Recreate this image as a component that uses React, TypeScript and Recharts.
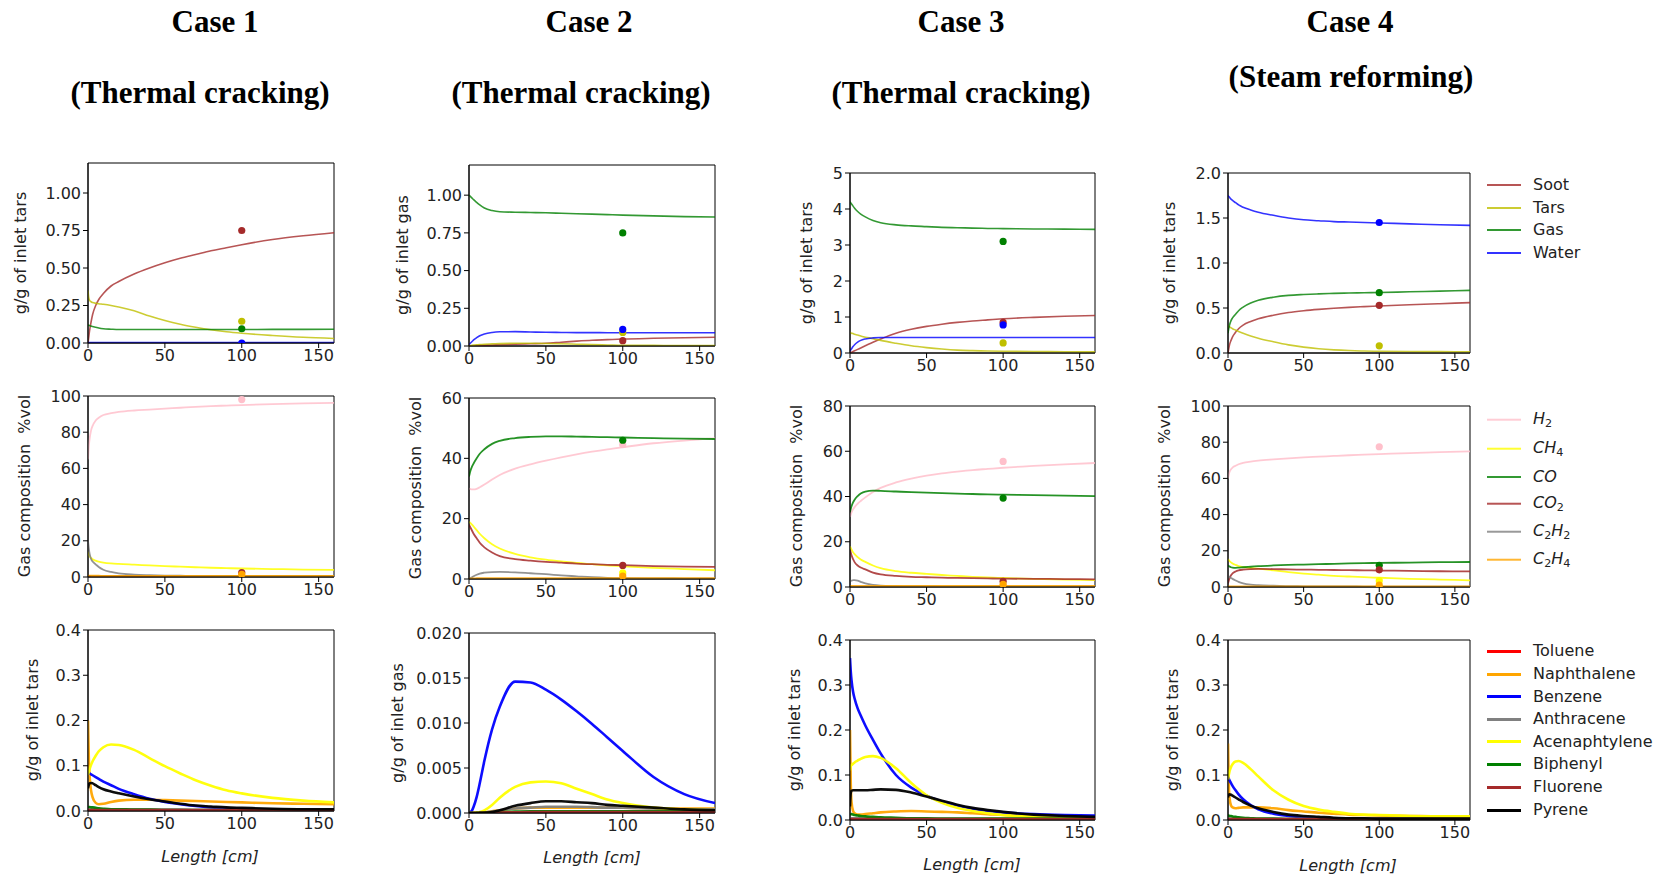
import React from 'react'
import { ComposedChart, Line, Scatter, XAxis, YAxis, ReferenceArea } from 'recharts'

// reactor length grid [cm]
const LENGTH_CM = [0, 0.5, 1, 2, 3, 5, 7, 10, 15, 20, 30, 40, 50, 60, 70, 80, 90, 100, 120, 140, 160]
const X_TICKS = [0, 50, 100, 150]
const EXP_X = 100

// ---- row 1: product yields ----
const c1Soot = [0, 0.04, 0.08, 0.14, 0.19, 0.25, 0.29, 0.33, 0.38, 0.41, 0.46, 0.5, 0.535, 0.565, 0.59, 0.615, 0.635, 0.655, 0.69, 0.715, 0.735]
const c1Tars = [0.35, 0.3, 0.285, 0.275, 0.27, 0.265, 0.262, 0.258, 0.25, 0.24, 0.215, 0.18, 0.15, 0.125, 0.105, 0.088, 0.075, 0.065, 0.05, 0.038, 0.03]
const c1Gas = [0.12, 0.118, 0.116, 0.113, 0.11, 0.105, 0.1, 0.095, 0.092, 0.09, 0.09, 0.09, 0.09, 0.09, 0.09, 0.09, 0.09, 0.09, 0.091, 0.091, 0.092]
const c1Water = [0.003, 0.003, 0.003, 0.003, 0.003, 0.003, 0.003, 0.003, 0.003, 0.003, 0.003, 0.003, 0.003, 0.003, 0.003, 0.003, 0.003, 0.003, 0.003, 0.003, 0.003]

const c2Soot = [0, 0, 0.001, 0.001, 0.002, 0.003, 0.004, 0.005, 0.007, 0.008, 0.012, 0.015, 0.018, 0.025, 0.032, 0.038, 0.042, 0.046, 0.051, 0.055, 0.058]
const c2Tars = [0, 0.002, 0.003, 0.005, 0.006, 0.008, 0.01, 0.012, 0.014, 0.016, 0.018, 0.018, 0.017, 0.015, 0.012, 0.009, 0.007, 0.005, 0.004, 0.003, 0.003]
const c2Gas = [1.0, 0.995, 0.99, 0.98, 0.97, 0.952, 0.935, 0.915, 0.898, 0.89, 0.887, 0.885, 0.883, 0.88, 0.877, 0.874, 0.871, 0.868, 0.863, 0.858, 0.855]
const c2Water = [0.01, 0.015, 0.02, 0.03, 0.04, 0.055, 0.068, 0.08, 0.09, 0.094, 0.095, 0.093, 0.091, 0.09, 0.089, 0.089, 0.088, 0.088, 0.088, 0.088, 0.088]

const c3Soot = [0, 0.01, 0.02, 0.04, 0.06, 0.1, 0.14, 0.2, 0.3, 0.39, 0.55, 0.66, 0.74, 0.8, 0.85, 0.89, 0.92, 0.95, 0.99, 1.02, 1.04]
const c3Tars = [0.57, 0.56, 0.55, 0.54, 0.52, 0.5, 0.47, 0.44, 0.4, 0.35, 0.27, 0.2, 0.15, 0.11, 0.08, 0.065, 0.055, 0.048, 0.04, 0.035, 0.03]
const c3Gas = [4.2, 4.17, 4.14, 4.08, 4.02, 3.93, 3.86, 3.78, 3.68, 3.62, 3.56, 3.53, 3.51, 3.49, 3.48, 3.47, 3.46, 3.455, 3.445, 3.44, 3.435]
const c3Water = [0.05, 0.09, 0.12, 0.18, 0.23, 0.3, 0.35, 0.39, 0.42, 0.43, 0.43, 0.43, 0.43, 0.43, 0.43, 0.43, 0.43, 0.43, 0.43, 0.43, 0.43]

const c4Soot = [0, 0.05, 0.09, 0.14, 0.18, 0.23, 0.27, 0.31, 0.35, 0.38, 0.42, 0.45, 0.47, 0.485, 0.497, 0.507, 0.515, 0.522, 0.536, 0.548, 0.56]
const c4Tars = [0.3, 0.295, 0.29, 0.28, 0.27, 0.255, 0.24, 0.22, 0.19, 0.165, 0.125, 0.09, 0.065, 0.047, 0.035, 0.027, 0.022, 0.019, 0.016, 0.015, 0.014]
const c4Gas = [0.22, 0.27, 0.31, 0.36, 0.39, 0.43, 0.47, 0.51, 0.555, 0.585, 0.62, 0.64, 0.65, 0.657, 0.662, 0.666, 0.669, 0.672, 0.68, 0.688, 0.696]
const c4Water = [1.75, 1.74, 1.73, 1.71, 1.695, 1.67, 1.645, 1.62, 1.59, 1.565, 1.53, 1.5, 1.48, 1.47, 1.46, 1.455, 1.45, 1.445, 1.435, 1.425, 1.418]

// measured yields at 100 cm: soot, tars, gas, water
const c1YieldExp = [0.75, 0.145, 0.095, 0.0]
const c2YieldExp = [0.035, 0.09, 0.75, 0.11]
const c3YieldExp = [0.85, 0.28, 3.1, 0.78]
const c4YieldExp = [0.53, 0.08, 0.67, 1.45]

// ---- row 2: gas composition %vol ----
const c1H2 = [65, 72, 76, 81, 83.5, 86.5, 88, 89.5, 90.5, 91.2, 92, 92.5, 93, 93.5, 94, 94.4, 94.7, 95, 95.5, 95.9, 96.2]
const c1CH4 = [14, 12.5, 11.5, 10.5, 9.8, 9, 8.5, 8, 7.5, 7.2, 6.8, 6.4, 6, 5.7, 5.4, 5.1, 4.9, 4.7, 4.4, 4.1, 3.9]
const c1CO = [0.5, 0.5, 0.5, 0.4, 0.4, 0.4, 0.3, 0.3, 0.3, 0.3, 0.3, 0.3, 0.3, 0.3, 0.3, 0.3, 0.3, 0.3, 0.3, 0.3, 0.3]
const c1CO2 = [0.4, 0.4, 0.4, 0.4, 0.3, 0.3, 0.3, 0.3, 0.3, 0.3, 0.3, 0.3, 0.3, 0.3, 0.3, 0.3, 0.3, 0.3, 0.3, 0.3, 0.3]
const c1C2H2 = [20, 16, 13, 10, 8.5, 7, 5.5, 4, 2.8, 2, 1.3, 1, 0.8, 0.7, 0.6, 0.6, 0.5, 0.5, 0.5, 0.4, 0.4]
const c1C2H4 = [0.8, 0.8, 0.8, 0.7, 0.7, 0.7, 0.7, 0.6, 0.6, 0.6, 0.6, 0.6, 0.6, 0.6, 0.6, 0.6, 0.6, 0.6, 0.6, 0.6, 0.6]

const c2H2 = [30, 29.9, 29.8, 29.7, 29.7, 29.9, 30.4, 31.3, 33, 34.5, 36.6, 38, 39.2, 40.3, 41.3, 42.2, 43, 43.7, 45, 45.9, 46.6]
const c2CH4 = [19, 18.8, 18.5, 18, 17.4, 16.2, 15, 13.5, 11.5, 10.1, 8.3, 7.2, 6.4, 5.8, 5.3, 4.9, 4.5, 4.2, 3.7, 3.3, 2.9]
const c2CO = [34, 35, 36, 37.3, 38.3, 40, 41.5, 43, 44.8, 45.8, 46.7, 47.1, 47.3, 47.3, 47.2, 47.1, 47, 46.9, 46.7, 46.5, 46.4]
const c2CO2 = [18, 17.5, 17, 16, 15, 13.5, 12, 10.5, 8.8, 7.6, 6.6, 6.1, 5.7, 5.4, 5.1, 4.9, 4.7, 4.6, 4.3, 4.1, 4.0]
const c2C2H2 = [0, 0.15, 0.3, 0.6, 0.9, 1.4, 1.8, 2.1, 2.3, 2.35, 2.2, 1.9, 1.6, 1.2, 0.9, 0.6, 0.4, 0.3, 0.2, 0.15, 0.1]
const c2C2H4 = [0.1, 0.1, 0.15, 0.2, 0.2, 0.25, 0.3, 0.3, 0.3, 0.3, 0.3, 0.3, 0.3, 0.3, 0.3, 0.3, 0.3, 0.3, 0.3, 0.3, 0.3]

const c3H2 = [31, 32, 33, 34.3, 35.3, 36.8, 38, 39.6, 42, 43.8, 46.2, 47.9, 49.2, 50.2, 51, 51.7, 52.2, 52.7, 53.5, 54.2, 54.8]
const c3CH4 = [18, 17.2, 16.5, 15.4, 14.5, 13.2, 12.2, 11.1, 9.5, 8.3, 7, 6.3, 5.8, 5.3, 4.9, 4.5, 4.2, 4.0, 3.6, 3.3, 3.0]
const c3CO = [33, 34.5, 35.7, 37.4, 38.6, 40.2, 41.3, 42.2, 42.6, 42.5, 42.2, 41.9, 41.7, 41.5, 41.3, 41.1, 40.9, 40.8, 40.6, 40.4, 40.2]
const c3CO2 = [16.5, 15.2, 14, 12.3, 11, 9.5, 8.6, 7.8, 6.4, 5.6, 4.9, 4.5, 4.3, 4.1, 4, 3.9, 3.8, 3.7, 3.6, 3.5, 3.4]
const c3C2H2 = [2.5, 2.7, 2.8, 3, 3, 2.8, 2.3, 1.6, 0.9, 0.6, 0.4, 0.3, 0.3, 0.2, 0.2, 0.2, 0.2, 0.2, 0.2, 0.2, 0.2]
const c3C2H4 = [0.5, 0.5, 0.5, 0.5, 0.5, 0.5, 0.5, 0.5, 0.5, 0.5, 0.5, 0.5, 0.5, 0.5, 0.5, 0.5, 0.5, 0.5, 0.5, 0.5, 0.5]

const c4H2 = [60, 62, 63.5, 65, 66, 67, 67.8, 68.6, 69.3, 69.8, 70.5, 71.1, 71.6, 72, 72.4, 72.8, 73.1, 73.4, 74, 74.5, 74.9]
const c4CH4 = [15.5, 14.8, 14.3, 13.6, 13, 12.2, 11.6, 11, 10.5, 10.1, 9.2, 8.2, 7.4, 6.8, 6.2, 5.8, 5.4, 5.1, 4.5, 4.1, 3.7]
const c4CO = [12, 11.6, 11.3, 10.9, 10.7, 10.6, 10.7, 10.9, 11.2, 11.5, 11.9, 12.2, 12.4, 12.6, 12.8, 13, 13.2, 13.3, 13.5, 13.7, 13.8]
const c4CO2 = [2, 3.5, 4.8, 6.5, 7.5, 8.6, 9.2, 9.6, 9.9, 10, 9.9, 9.7, 9.6, 9.5, 9.4, 9.3, 9.2, 9.1, 8.9, 8.7, 8.6]
const c4C2H2 = [6, 5.8, 5.5, 5, 4.5, 3.6, 2.8, 2, 1.3, 1, 0.7, 0.5, 0.4, 0.35, 0.3, 0.3, 0.25, 0.25, 0.2, 0.2, 0.2]
const c4C2H4 = [0.3, 0.3, 0.3, 0.3, 0.3, 0.3, 0.3, 0.3, 0.3, 0.3, 0.3, 0.3, 0.3, 0.3, 0.3, 0.3, 0.3, 0.3, 0.3, 0.3, 0.3]

// measured composition at 100 cm: H2, CH4, CO, CO2, C2H4
const c1GasExp = [98, null, null, 2.5, 1.5]
const c2GasExp = [44.5, 2, 46, 4.5, 1]
const c3GasExp = [55.5, null, 39.3, 2.5, 1.2]
const c4GasExp = [77.5, 3.5, 12, 9.5, 1]

// ---- row 3: tar species ----
const c1Toluene = [0.002, 0.002, 0.002, 0.002, 0.001, 0.001, 0.001, 0.001, 0.001, 0.001, 0.001, 0.001, 0.001, 0.001, 0.001, 0.001, 0.001, 0.001, 0.001, 0.001, 0.001]
const c1Naphthalene = [0.2, 0.12, 0.08, 0.045, 0.03, 0.018, 0.015, 0.016, 0.02, 0.023, 0.025, 0.025, 0.024, 0.023, 0.022, 0.021, 0.02, 0.019, 0.017, 0.016, 0.015]
const c1Benzene = [0.085, 0.084, 0.083, 0.081, 0.079, 0.075, 0.071, 0.065, 0.057, 0.049, 0.037, 0.027, 0.02, 0.015, 0.011, 0.008, 0.006, 0.005, 0.003, 0.002, 0.002]
const c1Anthracene = [0.004, 0.004, 0.004, 0.004, 0.004, 0.004, 0.004, 0.004, 0.003, 0.003, 0.003, 0.003, 0.003, 0.003, 0.002, 0.002, 0.002, 0.002, 0.002, 0.002, 0.002]
const c1Acenaphtylene = [0.08, 0.086, 0.092, 0.102, 0.11, 0.122, 0.132, 0.141, 0.147, 0.146, 0.135, 0.117, 0.099, 0.083, 0.068, 0.056, 0.046, 0.039, 0.029, 0.023, 0.019]
const c1Biphenyl = [0.01, 0.009, 0.009, 0.008, 0.008, 0.007, 0.006, 0.005, 0.004, 0.004, 0.003, 0.003, 0.002, 0.002, 0.002, 0.002, 0.002, 0.002, 0.002, 0.002, 0.002]
const c1Fluorene = [0.002, 0.002, 0.002, 0.002, 0.002, 0.002, 0.002, 0.002, 0.002, 0.002, 0.002, 0.002, 0.002, 0.002, 0.002, 0.002, 0.002, 0.002, 0.002, 0.002, 0.002]
const c1Pyrene = [0.05, 0.058, 0.061, 0.062, 0.061, 0.057, 0.053, 0.048, 0.043, 0.039, 0.032, 0.026, 0.021, 0.016, 0.012, 0.01, 0.008, 0.007, 0.005, 0.004, 0.004]

const c2Toluene = [0, 0, 0, 0, 0, 0, 0, 0, 0.00001, 0.00002, 0.00003, 0.00004, 0.00005, 0.00005, 0.00005, 0.00005, 0.00005, 0.00005, 0.00005, 0.00005, 0.00005]
const c2Naphthalene = [0, 0, 0, 0, 0.00001, 0.00002, 0.00004, 0.00008, 0.0002, 0.0003, 0.0005, 0.0006, 0.0006, 0.0006, 0.0006, 0.0006, 0.0006, 0.0006, 0.00055, 0.0005, 0.0005]
const c2Benzene = [0, 0.00002, 0.0001, 0.0003, 0.0007, 0.0018, 0.0033, 0.0058, 0.0093, 0.0118, 0.0146, 0.0145, 0.0137, 0.0126, 0.0113, 0.0099, 0.0084, 0.0069, 0.004, 0.0021, 0.0011]
const c2Anthracene = [0, 0, 0, 0, 0, 0.00001, 0.00002, 0.00005, 0.00015, 0.0003, 0.0005, 0.0006, 0.0007, 0.0007, 0.0007, 0.00065, 0.0006, 0.0006, 0.0005, 0.0004, 0.0004]
const c2Acenaphtylene = [0, 0, 0, 0, 0.00001, 0.00005, 0.0001, 0.0003, 0.0009, 0.0017, 0.0029, 0.0034, 0.0035, 0.0033, 0.0027, 0.0021, 0.0015, 0.0011, 0.0006, 0.0004, 0.0003]
const c2Biphenyl = [0, 0, 0, 0, 0, 0.00001, 0.00002, 0.00004, 0.00008, 0.0001, 0.00015, 0.0002, 0.0002, 0.0002, 0.0002, 0.0002, 0.0002, 0.0002, 0.0002, 0.0002, 0.0002]
const c2Fluorene = [0, 0, 0, 0, 0, 0, 0.00001, 0.00002, 0.00004, 0.00005, 0.00008, 0.0001, 0.0001, 0.0001, 0.0001, 0.0001, 0.0001, 0.0001, 0.0001, 0.0001, 0.0001]
const c2Pyrene = [0, 0, 0, 0, 0, 0, 0.00001, 0.00002, 0.0001, 0.0003, 0.0008, 0.0011, 0.0013, 0.0013, 0.0012, 0.0011, 0.0009, 0.0008, 0.0006, 0.0004, 0.0003]

const c3Toluene = [0.001, 0.001, 0.001, 0.001, 0.001, 0.001, 0.001, 0.001, 0.001, 0.001, 0.001, 0.001, 0.001, 0.001, 0.001, 0.001, 0.001, 0.001, 0.001, 0.001, 0.001]
const c3Naphthalene = [0.2, 0.08, 0.04, 0.02, 0.015, 0.012, 0.012, 0.013, 0.015, 0.017, 0.019, 0.02, 0.019, 0.018, 0.017, 0.015, 0.013, 0.011, 0.009, 0.007, 0.006]
const c3Benzene = [0.36, 0.33, 0.31, 0.285, 0.27, 0.248, 0.232, 0.21, 0.178, 0.148, 0.1, 0.072, 0.054, 0.041, 0.032, 0.025, 0.02, 0.017, 0.013, 0.011, 0.01]
const c3Anthracene = [0.004, 0.004, 0.004, 0.004, 0.004, 0.004, 0.004, 0.003, 0.003, 0.003, 0.003, 0.003, 0.003, 0.002, 0.002, 0.002, 0.002, 0.002, 0.002, 0.002, 0.002]
const c3Acenaphtylene = [0.11, 0.12, 0.122, 0.125, 0.128, 0.132, 0.136, 0.14, 0.142, 0.138, 0.115, 0.082, 0.055, 0.038, 0.027, 0.02, 0.015, 0.011, 0.007, 0.005, 0.004]
const c3Biphenyl = [0.014, 0.013, 0.013, 0.012, 0.011, 0.01, 0.009, 0.008, 0.007, 0.006, 0.005, 0.004, 0.004, 0.003, 0.003, 0.003, 0.003, 0.003, 0.003, 0.003, 0.003]
const c3Fluorene = [0.002, 0.002, 0.002, 0.002, 0.002, 0.002, 0.002, 0.002, 0.002, 0.002, 0.002, 0.002, 0.002, 0.002, 0.002, 0.002, 0.002, 0.002, 0.002, 0.002, 0.002]
const c3Pyrene = [0.03, 0.06, 0.065, 0.066, 0.066, 0.066, 0.066, 0.066, 0.067, 0.068, 0.067, 0.061, 0.052, 0.043, 0.034, 0.027, 0.022, 0.018, 0.012, 0.009, 0.007]

const c4Toluene = [0.001, 0.001, 0.001, 0.001, 0.001, 0.001, 0.001, 0.001, 0.001, 0.001, 0.001, 0.001, 0.001, 0.001, 0.001, 0.001, 0.001, 0.001, 0.001, 0.001, 0.001]
const c4Naphthalene = [0.17, 0.08, 0.05, 0.032, 0.028, 0.026, 0.027, 0.028, 0.028, 0.028, 0.026, 0.022, 0.019, 0.016, 0.014, 0.012, 0.011, 0.01, 0.009, 0.008, 0.008]
const c4Benzene = [0.095, 0.092, 0.088, 0.082, 0.076, 0.066, 0.057, 0.046, 0.033, 0.024, 0.014, 0.009, 0.006, 0.005, 0.004, 0.003, 0.003, 0.002, 0.002, 0.002, 0.002]
const c4Anthracene = [0.003, 0.003, 0.003, 0.003, 0.003, 0.003, 0.003, 0.003, 0.002, 0.002, 0.002, 0.002, 0.002, 0.002, 0.002, 0.002, 0.002, 0.002, 0.002, 0.002, 0.002]
const c4Acenaphtylene = [0.09, 0.1, 0.108, 0.118, 0.124, 0.13, 0.131, 0.127, 0.113, 0.097, 0.066, 0.045, 0.031, 0.023, 0.018, 0.014, 0.012, 0.011, 0.009, 0.008, 0.008]
const c4Biphenyl = [0.01, 0.01, 0.009, 0.009, 0.008, 0.007, 0.006, 0.005, 0.004, 0.003, 0.003, 0.002, 0.002, 0.002, 0.002, 0.002, 0.002, 0.002, 0.002, 0.002, 0.002]
const c4Fluorene = [0.002, 0.002, 0.002, 0.002, 0.002, 0.002, 0.002, 0.002, 0.002, 0.002, 0.002, 0.002, 0.002, 0.002, 0.002, 0.002, 0.002, 0.002, 0.002, 0.002, 0.002]
const c4Pyrene = [0.05, 0.056, 0.057, 0.056, 0.054, 0.05, 0.046, 0.04, 0.032, 0.026, 0.018, 0.012, 0.009, 0.007, 0.005, 0.004, 0.004, 0.003, 0.003, 0.003, 0.003]

// ---- labels / colours ----
const YIELD_NAMES = ['Soot', 'Tars', 'Gas', 'Water']
const YIELD_COLORS = ['#a52a2a', '#bfbf00', '#008000', '#0000ff']
const GAS_NAMES = ['H2', 'CH4', 'CO', 'CO2', 'C2H2', 'C2H4']
const GAS_COLORS = ['#ffc0cb', '#ffff00', '#008000', '#a52a2a', '#808080', '#ffa500']
const GAS_EXP_COLORS = ['#ffc0cb', '#ffff00', '#008000', '#a52a2a', '#ffa500']
const TAR_NAMES = ['Toluene', 'Naphthalene', 'Benzene', 'Anthracene', 'Acenaphtylene', 'Biphenyl', 'Fluorene', 'Pyrene']
const TAR_COLORS = ['#ff0000', '#ffa500', '#0000ff', '#808080', '#ffff00', '#008000', '#a52a2a', '#000000']

const FONT = '"DejaVu Sans", sans-serif'
const TICK = { fontSize: 16, fill: '#222', fontFamily: FONT }

const f0 = (v: number) => String(v)
const f1 = (v: number) => v.toFixed(1)
const f2 = (v: number) => v.toFixed(2)
const f3 = (v: number) => v.toFixed(3)

type Box = [number, number, number, number] // left, top, width, height

interface PanelProps {
  box: Box
  yMax: number
  yTicks: number[]
  fmt: (v: number) => string
  lines: number[][]
  colors: string[]
  width: number
  opacity: number
  exp?: (number | null)[]
  expColors?: string[]
}

function Panel({ box, yMax, yTicks, fmt, lines, colors, width, opacity, exp, expColors }: PanelProps) {
  const rows = LENGTH_CM.map((x, i) => {
    const r: any = { x }
    lines.forEach((s, k) => { r['s' + k] = s[i] })
    return r
  })
  return (
    <div style={{ position: 'absolute', left: box[0] - 60, top: box[1] - 10 }}>
      <ComposedChart width={box[2] + 70} height={box[3] + 40} data={rows}
        margin={{ top: 10, right: 10, bottom: 0, left: 0 }}>
        <XAxis dataKey="x" type="number" domain={[0, 160]} ticks={X_TICKS} allowDataOverflow
          height={30} tick={TICK} tickSize={5} stroke="#000" />
        <YAxis type="number" domain={[0, yMax]} ticks={yTicks} tickFormatter={fmt} allowDataOverflow
          width={60} tick={TICK} tickSize={5} stroke="#000" />
        <ReferenceArea x1={0} x2={160} y1={0} y2={yMax} fill="none" fillOpacity={0}
          stroke="#000" strokeOpacity={1} strokeWidth={1} ifOverflow="visible" />
        {lines.map((_, k) => (
          <Line key={k} dataKey={'s' + k} type="monotone" stroke={colors[k]} strokeWidth={width}
            strokeOpacity={opacity} dot={false} isAnimationActive={false} />
        ))}
        {exp && exp.map((y, k) => y === null ? null : (
          <Scatter key={'e' + k} data={[{ x: EXP_X, y }]} dataKey="y" isAnimationActive={false}
            shape={(p: any) => <circle cx={p.cx} cy={p.cy} r={3.6} fill={expColors![k]} />} />
        ))}
      </ComposedChart>
    </div>
  )
}

function YLabel({ text, cx, cy }: { text: string; cx: number; cy: number }) {
  return (
    <div style={{
      position: 'absolute', left: cx, top: cy, transform: 'translate(-50%, -50%) rotate(-90deg)',
      whiteSpace: 'pre', fontFamily: FONT, fontSize: 16, color: '#222', lineHeight: 1,
    }}>{text}</div>
  )
}

function XLabel({ cx, cy }: { cx: number; cy: number }) {
  return (
    <div style={{
      position: 'absolute', left: cx, top: cy, transform: 'translate(-50%, -50%)',
      fontFamily: FONT, fontSize: 16, fontStyle: 'italic', color: '#222', lineHeight: 1, whiteSpace: 'pre',
    }}>Length [cm]</div>
  )
}

function Title({ text, cx, cy }: { text: string; cx: number; cy: number }) {
  return (
    <div style={{
      position: 'absolute', left: cx, top: cy, transform: 'translate(-50%, -50%)',
      fontFamily: '"Liberation Serif", serif', fontWeight: 'bold', fontSize: 31, whiteSpace: 'pre', lineHeight: 1,
    }}>{text}</div>
  )
}

const sub = { fontSize: '0.7em', verticalAlign: '-0.3em', fontStyle: 'normal' as const }
function gasLabel(name: string) {
  const parts = name.match(/[A-Z]+|\d+/g) || []
  return parts.map((p, i) => /\d/.test(p)
    ? <span key={i} style={sub}>{p}</span>
    : <i key={i}>{p}</i>)
}

function LegendBlock({ names, colors, rows, lw, math }: { names: string[]; colors: string[]; rows: number[]; lw: number; math?: boolean }) {
  return (
    <>
      {names.map((n, i) => (
        <div key={n} style={{ position: 'absolute', left: 1487, top: rows[i], transform: 'translateY(-50%)', display: 'flex', alignItems: 'center' }}>
          <div style={{ width: 34, height: lw, background: colors[i], opacity: lw < 3 ? 0.8 : 1 }} />
          <div style={{ marginLeft: 12, fontFamily: FONT, fontSize: 16, color: '#222', lineHeight: 1, whiteSpace: 'pre' }}>
            {math ? gasLabel(n) : n}
          </div>
        </div>
      ))}
    </>
  )
}

export default function App() {
  const yTicksA = [0, 0.25, 0.5, 0.75, 1.0]
  const pct = [0, 20, 40, 60, 80, 100]
  const tarTicks = [0, 0.1, 0.2, 0.3, 0.4]
  return (
    <div style={{ position: 'absolute', left: 0, top: 0, width: 1663, height: 877, background: '#fff', overflow: 'hidden' }}>
      <Title text="Case 1" cx={215} cy={21} />
      <Title text="(Thermal cracking)" cx={200} cy={92} />
      <Title text="Case 2" cx={589} cy={21} />
      <Title text="(Thermal cracking)" cx={581} cy={92} />
      <Title text="Case 3" cx={961} cy={21} />
      <Title text="(Thermal cracking)" cx={961} cy={92} />
      <Title text="Case 4" cx={1350} cy={21} />
      <Title text="(Steam reforming)" cx={1351} cy={76} />

      {/* row 1 */}
      <Panel box={[88, 163, 246, 180]} yMax={1.2} yTicks={yTicksA} fmt={f2} width={1.6} opacity={0.8}
        lines={[c1Soot, c1Tars, c1Gas, c1Water]} colors={YIELD_COLORS} exp={c1YieldExp} expColors={YIELD_COLORS} />
      <Panel box={[469, 165, 246, 181]} yMax={1.2} yTicks={yTicksA} fmt={f2} width={1.6} opacity={0.8}
        lines={[c2Soot, c2Tars, c2Gas, c2Water]} colors={YIELD_COLORS} exp={c2YieldExp} expColors={YIELD_COLORS} />
      <Panel box={[850, 173, 245, 180]} yMax={5} yTicks={[0, 1, 2, 3, 4, 5]} fmt={f0} width={1.6} opacity={0.8}
        lines={[c3Soot, c3Tars, c3Gas, c3Water]} colors={YIELD_COLORS} exp={c3YieldExp} expColors={YIELD_COLORS} />
      <Panel box={[1228, 173, 242, 180]} yMax={2} yTicks={[0, 0.5, 1, 1.5, 2]} fmt={f1} width={1.6} opacity={0.8}
        lines={[c4Soot, c4Tars, c4Gas, c4Water]} colors={YIELD_COLORS} exp={c4YieldExp} expColors={YIELD_COLORS} />

      {/* row 2 */}
      <Panel box={[88, 396, 246, 181]} yMax={100} yTicks={pct} fmt={f0} width={1.8} opacity={0.85}
        lines={[c1H2, c1CH4, c1CO, c1CO2, c1C2H2, c1C2H4]} colors={GAS_COLORS} exp={c1GasExp} expColors={GAS_EXP_COLORS} />
      <Panel box={[469, 398, 246, 181]} yMax={60} yTicks={[0, 20, 40, 60]} fmt={f0} width={1.8} opacity={0.85}
        lines={[c2H2, c2CH4, c2CO, c2CO2, c2C2H2, c2C2H4]} colors={GAS_COLORS} exp={c2GasExp} expColors={GAS_EXP_COLORS} />
      <Panel box={[850, 406, 245, 181]} yMax={80} yTicks={[0, 20, 40, 60, 80]} fmt={f0} width={1.8} opacity={0.85}
        lines={[c3H2, c3CH4, c3CO, c3CO2, c3C2H2, c3C2H4]} colors={GAS_COLORS} exp={c3GasExp} expColors={GAS_EXP_COLORS} />
      <Panel box={[1228, 406, 242, 181]} yMax={100} yTicks={pct} fmt={f0} width={1.8} opacity={0.85}
        lines={[c4H2, c4CH4, c4CO, c4CO2, c4C2H2, c4C2H4]} colors={GAS_COLORS} exp={c4GasExp} expColors={GAS_EXP_COLORS} />

      {/* row 3 */}
      <Panel box={[88, 630, 246, 181]} yMax={0.4} yTicks={tarTicks} fmt={f1} width={2.6} opacity={0.95}
        lines={[c1Toluene, c1Naphthalene, c1Benzene, c1Anthracene, c1Acenaphtylene, c1Biphenyl, c1Fluorene, c1Pyrene]} colors={TAR_COLORS} />
      <Panel box={[469, 633, 246, 180]} yMax={0.02} yTicks={[0, 0.005, 0.01, 0.015, 0.02]} fmt={f3} width={2.6} opacity={0.95}
        lines={[c2Toluene, c2Naphthalene, c2Benzene, c2Anthracene, c2Acenaphtylene, c2Biphenyl, c2Fluorene, c2Pyrene]} colors={TAR_COLORS} />
      <Panel box={[850, 640, 245, 180]} yMax={0.4} yTicks={tarTicks} fmt={f1} width={2.6} opacity={0.95}
        lines={[c3Toluene, c3Naphthalene, c3Benzene, c3Anthracene, c3Acenaphtylene, c3Biphenyl, c3Fluorene, c3Pyrene]} colors={TAR_COLORS} />
      <Panel box={[1228, 640, 242, 180]} yMax={0.4} yTicks={tarTicks} fmt={f1} width={2.6} opacity={0.95}
        lines={[c4Toluene, c4Naphthalene, c4Benzene, c4Anthracene, c4Acenaphtylene, c4Biphenyl, c4Fluorene, c4Pyrene]} colors={TAR_COLORS} />

      <YLabel text="g/g of inlet tars" cx={21} cy={253} />
      <YLabel text="g/g of inlet gas" cx={403} cy={255} />
      <YLabel text="g/g of inlet tars" cx={807} cy={263} />
      <YLabel text="g/g of inlet tars" cx={1170} cy={263} />
      <YLabel text="Gas composition  %vol" cx={25} cy={486} />
      <YLabel text="Gas composition  %vol" cx={416} cy={488} />
      <YLabel text="Gas composition  %vol" cx={797} cy={496} />
      <YLabel text="Gas composition  %vol" cx={1165} cy={496} />
      <YLabel text="g/g of inlet tars" cx={33} cy={720} />
      <YLabel text="g/g of inlet gas" cx={398} cy={723} />
      <YLabel text="g/g of inlet tars" cx={795} cy={730} />
      <YLabel text="g/g of inlet tars" cx={1173} cy={730} />

      <XLabel cx={210} cy={857} />
      <XLabel cx={592} cy={858} />
      <XLabel cx={972} cy={865} />
      <XLabel cx={1348} cy={866} />

      <LegendBlock names={YIELD_NAMES} colors={YIELD_COLORS} rows={[185, 207.5, 230, 252.5]} lw={2} />
      <LegendBlock names={GAS_NAMES} colors={GAS_COLORS} rows={[420, 449, 477, 504, 532, 560]} lw={2} math />
      <LegendBlock names={TAR_NAMES} colors={TAR_COLORS} rows={[651, 674, 696.5, 719, 741.5, 764, 787, 810]} lw={3} />
    </div>
  )
}
